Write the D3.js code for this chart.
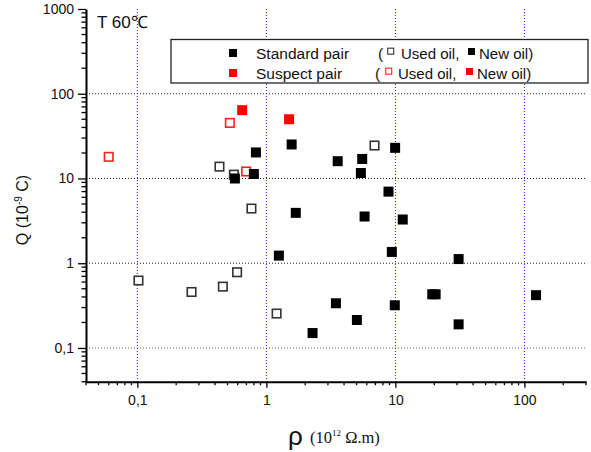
<!DOCTYPE html>
<html>
<head>
<meta charset="utf-8">
<script src="https://cdn.jsdelivr.net/npm/d3@7"></script>
<style>
  body { margin: 0; background: #fff; }
  svg { font-family: "Liberation Sans", Arial, sans-serif; }
</style>
</head>
<body>
<svg id="chart" width="591" height="452"></svg>
<script>
// resistivity (10^12 ohm.m) and charge (10^-9 C)
var std_new_x = [0.83, 0.57, 0.80, 1.57, 9.95, 3.57, 5.53, 5.40, 8.84, 1.69, 5.77, 11.4, 1.25, 9.38, 30.9, 19.3, 20.5, 123, 3.46, 9.89, 5.03, 30.9, 2.28];
var std_new_y = [20.3, 10.0, 11.3, 25.2, 23.0, 16.0, 17.0, 11.6, 7.0, 3.93, 3.56, 3.28, 1.23, 1.36, 1.12, 0.43, 0.43, 0.42, 0.337, 0.319, 0.214, 0.19, 0.15];
var std_used_x = [0.433, 0.56, 0.766, 6.89, 0.102, 0.263, 0.46, 0.593, 1.20];
var std_used_y = [13.8, 11.1, 4.42, 24.5, 0.625, 0.458, 0.53, 0.783, 0.255];
var sus_new_x = [0.649, 1.50];
var sus_new_y = [64, 50];
var sus_used_x = [0.060, 0.521, 0.697];
var sus_used_y = [18.0, 45.3, 12.1];

var x_ticks = [0.1, 1, 10, 100];
var x_labels = ['0,1', '1', '10', '100'];
var y_ticks = [0.1, 1, 10, 100, 1000];
var y_labels = ['0,1', '1', '10', '100', '1000'];

var svg = d3.select('#chart');

var x = d3.scaleLog().domain([0.04, 300]).range([86, 586]);
var y = d3.scaleLog().domain([0.04, 1000]).range([381.7, 9]);

// minor ticks 2..9 in each decade
function minors(scale) {
    var d = scale.domain(), out = [];
    for (var e = -2; e <= 3; e++) {
        for (var m = 2; m <= 9; m++) {
            var v = m * Math.pow(10, e);
            if (v >= d[0] && v <= d[1]) out.push(v);
        }
    }
    return out;
}

// grid
svg.append('g').selectAll('line').data(y_ticks.filter(function(d){ return d < 1000; }))
    .enter().append('line')
    .attr('x1', 86).attr('x2', 586)
    .attr('y1', function(d){ return y(d); }).attr('y2', function(d){ return y(d); })
    .attr('stroke', function(d){ return d == 0.1 ? '#666' : '#222'; })
    .attr('stroke-width', 1)
    .attr('stroke-dasharray', '1,2');

svg.append('g').selectAll('line').data(x_ticks)
    .enter().append('line')
    .attr('x1', function(d){ return x(d); }).attr('x2', function(d){ return x(d); })
    .attr('y1', 9).attr('y2', 381.7)
    .attr('stroke', '#2020e0')
    .attr('stroke-width', 1)
    .attr('stroke-dasharray', '1,2');

// axes
var xAxis = d3.axisBottom(x).tickValues(x_ticks).tickSize(6).tickSizeOuter(0)
    .tickFormat(function(d, i){ return x_labels[i]; });
var gx = svg.append('g').attr('transform', 'translate(0,381.7)').call(xAxis);
gx.append('g').selectAll('line').data(minors(x)).enter().append('line')
    .attr('x1', function(d){ return x(d); }).attr('x2', function(d){ return x(d); })
    .attr('y1', 0).attr('y2', 3.5).attr('stroke', '#000').attr('stroke-width', 1.3);

var yAxis = d3.axisLeft(y).tickValues(y_ticks).tickSize(8).tickSizeOuter(0)
    .tickFormat(function(d, i){ return y_labels[i]; });
var gy = svg.append('g').attr('transform', 'translate(86,0)').call(yAxis);
gy.append('g').selectAll('line').data(minors(y)).enter().append('line')
    .attr('y1', function(d){ return y(d); }).attr('y2', function(d){ return y(d); })
    .attr('x1', 0).attr('x2', -4.5).attr('stroke', '#000').attr('stroke-width', 1.3);

[gx, gy].forEach(function(g) {
    g.select('.domain').attr('stroke', '#000').attr('stroke-width', 2);
    g.selectAll('.tick line').attr('stroke', '#000').attr('stroke-width', 1.3);
    g.selectAll('.tick text').attr('fill', '#111')
        .style('font-family', '"Liberation Sans", Arial, sans-serif').style('font-size', '14px');
});
gx.selectAll('.tick text').attr('dy', '1.05em');
gy.selectAll('.tick text').attr('x', -12);

// points
function squares(xs, ys, cls, fill, stroke, size) {
    svg.append('g').selectAll('rect.' + cls).data(xs).enter().append('rect')
        .attr('class', cls)
        .attr('x', function(d){ return x(d) - size / 2; })
        .attr('y', function(d, i){ return y(ys[i]) - size / 2; })
        .attr('width', size).attr('height', size)
        .attr('fill', fill)
        .attr('stroke', stroke)
        .attr('stroke-width', stroke == 'none' ? 0 : 1.6);
}
squares(std_used_x, std_used_y, 'std_used', '#fff', '#333', 8.5);
squares(sus_used_x, sus_used_y, 'sus_used', '#fff', '#ff2020', 8.5);
squares(std_new_x, std_new_y, 'std_new', '#000', 'none', 10);
squares(sus_new_x, sus_new_y, 'sus_new', '#ff0000', 'none', 10);

// temperature label
svg.append('text').attr('x', 97).attr('y', 28)
    .style('font-size', '17px').attr('fill', '#111').text('T 60℃');

// legend
var lg = svg.append('g');
lg.append('rect').attr('x', 171).attr('y', 39.5).attr('width', 417).attr('height', 43.5)
    .attr('fill', '#fff').attr('stroke', '#222').attr('stroke-width', 1.3);
lg.append('rect').attr('x', 229).attr('y', 49).attr('width', 8).attr('height', 8).attr('fill', '#000');
lg.append('rect').attr('x', 229).attr('y', 69).attr('width', 8).attr('height', 8).attr('fill', '#ff0000');

var rows = [
    { y: 58.5, name: 'Standard pair', p: 378, used: 387, uText: 401, neu: 468, nText: 479, col: '#000', ucol: '#444' },
    { y: 78.5, name: 'Suspect pair', p: 375, used: 385, uText: 398, neu: 466, nText: 477, col: '#ff0000', ucol: '#ff3030' }
];
rows.forEach(function(r) {
    lg.append('text').attr('x', 256).attr('y', r.y).style('font-size', '15.5px').attr('fill', '#111').text(r.name);
    lg.append('text').attr('x', r.p).attr('y', r.y).style('font-size', '15.5px').attr('fill', '#111').text('(');
    lg.append('rect').attr('x', r.used + 0.7).attr('y', r.y - 10.3).attr('width', 6).attr('height', 6)
        .attr('fill', '#fff').attr('stroke', r.ucol).attr('stroke-width', 1.2);
    lg.append('text').attr('x', r.uText).attr('y', r.y).style('font-size', '15px').attr('fill', '#111').text('Used oil,');
    lg.append('rect').attr('x', r.neu).attr('y', r.y - 10.5).attr('width', 7).attr('height', 7).attr('fill', r.col);
    lg.append('text').attr('x', r.nText).attr('y', r.y).style('font-size', '15px').attr('fill', '#111').text('New oil)');
});

// axis titles
var yt = svg.append('text').attr('transform', 'translate(28,210) rotate(-90)')
    .attr('text-anchor', 'middle').style('font-size', '16px').attr('fill', '#111');
yt.append('tspan').text('Q (10');
yt.append('tspan').attr('dy', -6).style('font-size', '10px').text('-9');
yt.append('tspan').attr('dy', 6).text(' C)');

svg.append('text').attr('x', 288).attr('y', 445).style('font-size', '26px').attr('fill', '#111').text('ρ');
var xt = svg.append('text').attr('x', 310).attr('y', 443)
    .style('font-family', '"Liberation Serif", "Times New Roman", serif').style('font-size', '16.5px').attr('fill', '#111');
xt.append('tspan').text('(10');
xt.append('tspan').attr('dy', -7).style('font-size', '9px').text('12');
xt.append('tspan').attr('dy', 7).text(' Ω.m)');
</script>
</body>
</html>
